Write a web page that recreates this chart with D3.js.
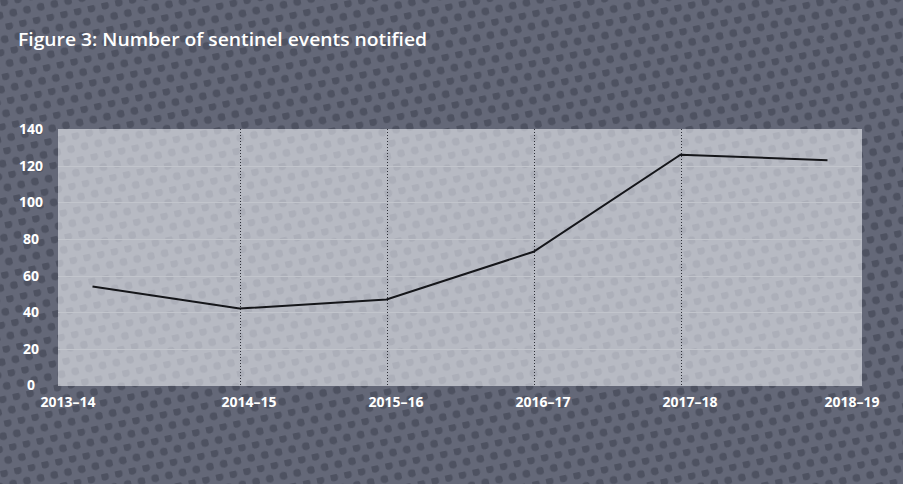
<!DOCTYPE html>
<html>
<head>
<meta charset="utf-8">
<script src="https://cdn.jsdelivr.net/npm/d3@7"></script>
<style>
  html, body { margin: 0; padding: 0; background: #5f6373; }
  svg { display: block; }
  text { font-family: "Open Sans", "DejaVu Sans", sans-serif; }
</style>
</head>
<body>
<svg id="chart" width="903" height="484"></svg>
<script>
const title = "Figure 3: Number of sentinel events notified";
const categories = ["2013–14", "2014–15", "2015–16", "2016–17", "2017–18", "2018–19"];
const sentinelEvents = [54, 42, 47, 73, 126, 123];
const yTicks = [0, 20, 40, 60, 80, 100, 120, 140];

const W = 903, H = 484;
const plot = { left: 58, right: 862, top: 129, bottom: 386 };

const svg = d3.select("#chart");
const defs = svg.append("defs");

function dotPattern(id, bg, dot, r) {
  const p = defs.append("pattern")
    .attr("id", id).attr("patternUnits", "userSpaceOnUse")
    .attr("width", 14).attr("height", 24.25)
    .attr("patternTransform", "rotate(-12)");
  p.append("rect").attr("width", 14).attr("height", 24.25).attr("fill", bg);
  p.append("circle").attr("cx", 3.5).attr("cy", 3).attr("r", r).attr("fill", dot);
  p.append("circle").attr("cx", 10.5).attr("cy", 15.125).attr("r", r).attr("fill", dot);
}
dotPattern("bgdots", "#646878", "#4e5261", 4);
dotPattern("plotdots", "#b7bac3", "#acafb9", 4);

svg.append("rect").attr("width", W).attr("height", H).attr("fill", "url(#bgdots)");

// title
svg.append("text")
  .attr("x", 18).attr("y", 45.5)
  .attr("fill", "#ffffff").attr("font-size", 18.5).attr("font-weight", 600)
  .attr("textLength", 409).attr("lengthAdjust", "spacingAndGlyphs")
  .text(title);

// plot area
svg.append("rect")
  .attr("x", plot.left).attr("y", plot.top)
  .attr("width", plot.right - plot.left).attr("height", plot.bottom - plot.top)
  .attr("fill", "url(#plotdots)");

const x = d3.scalePoint().domain(categories).range([92.5, 827.5]);
const y = d3.scaleLinear().domain([0, 140]).range([385.5, 129]);

// horizontal gridlines
svg.append("g").selectAll("line").data(yTicks.filter(t => t > 0 && t < 140)).join("line")
  .attr("x1", plot.left).attr("x2", plot.right)
  .attr("y1", d => Math.round(y(d)) + 0.5).attr("y2", d => Math.round(y(d)) + 0.5)
  .attr("stroke", "#c2c5cc").attr("stroke-width", 1);

// vertical dotted lines (interior categories)
svg.append("g").selectAll("line").data(categories.slice(1, -1)).join("line")
  .attr("x1", d => Math.round(x(d)) + 0.5).attr("x2", d => Math.round(x(d)) + 0.5)
  .attr("y1", plot.top).attr("y2", plot.bottom)
  .attr("stroke", "#2e3038").attr("stroke-width", 1).attr("stroke-dasharray", "1,2");

// y axis labels
const yAxis = d3.axisLeft(y).tickValues(yTicks).tickSize(0).tickPadding(0);
const yg = svg.append("g").attr("transform", "translate(31,0)").call(yAxis);
yg.select(".domain").remove();
yg.selectAll("text")
  .attr("text-anchor", "middle").attr("fill", "#ffffff")
  .attr("font-size", 14).attr("font-weight", 700)
  .attr("font-family", "\"Open Sans\", sans-serif");

// x axis labels
const xAxis = d3.axisBottom(x).tickSize(0).tickPadding(0);
const xg = svg.append("g").attr("transform", "translate(0,397)").call(xAxis);
xg.select(".domain").remove();
const n = categories.length;
xg.selectAll(".tick text")
  .attr("fill", "#ffffff").attr("font-size", 14).attr("font-weight", 700)
  .attr("font-family", "\"Open Sans\", sans-serif")
  .attr("dy", "0.71em")
  .attr("text-anchor", (d, i) => i === 0 ? "start" : (i === n - 1 ? "end" : "middle"))
  .attr("x", (d, i) => i === 0 ? (plot.left - 18 - x(d)) : (i === n - 1 ? (plot.right + 17 - x(d)) : 9));

// line
const line = d3.line().x((d, i) => x(categories[i])).y(d => y(d));
svg.append("path").datum(sentinelEvents)
  .attr("d", line).attr("fill", "none")
  .attr("stroke", "#15161a").attr("stroke-width", 2).attr("stroke-linejoin", "miter");
</script>
</body>
</html>
